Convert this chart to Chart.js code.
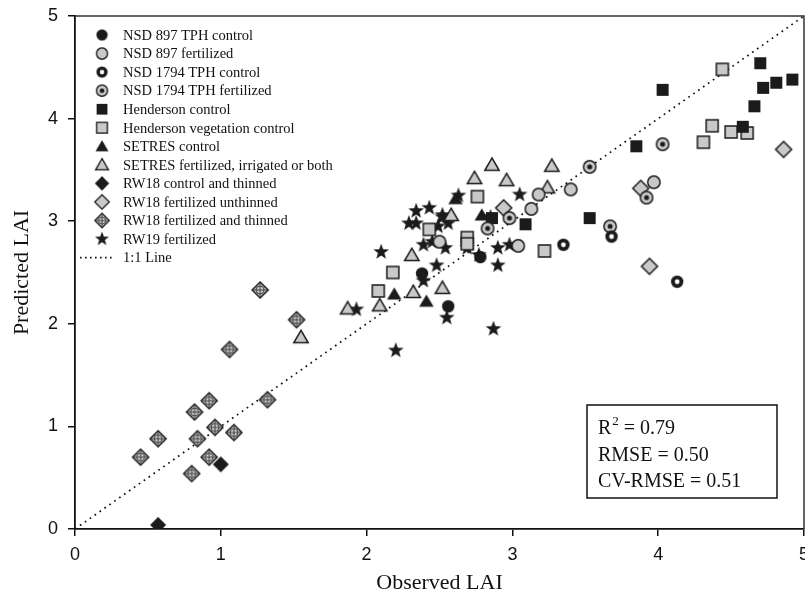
<!DOCTYPE html>
<html>
<head>
<meta charset="utf-8">
<script src="https://cdn.jsdelivr.net/npm/chart.js@4.4.1/dist/chart.umd.min.js"></script>
<style>
  html, body { margin: 0; padding: 0; background: #fff; overflow: hidden; }
  #wrap { width: 805px; height: 598px; overflow: hidden; }
</style>
</head>
<body>
<div id="wrap"><canvas id="lai" width="817" height="598"></canvas></div>
<script>
// [observed, predicted] pairs
const nsd897Control = [[2.38, 2.49], [2.56, 2.17], [2.78, 2.65]];
const nsd897Fert = [[3.97, 3.38], [3.40, 3.31], [3.18, 3.26], [3.13, 3.12], [3.04, 2.76], [2.50, 2.80]];
const nsd1794Control = [[3.35, 2.77], [3.68, 2.85], [4.13, 2.41]];
const nsd1794Fert = [[4.03, 3.75], [3.53, 3.53], [3.92, 3.23], [3.67, 2.95], [2.98, 3.03], [2.83, 2.93]];
const hendControl = [[4.03, 4.28], [4.70, 4.54], [4.72, 4.30], [4.81, 4.35], [4.92, 4.38], [4.66, 4.12],
  [4.58, 3.92], [3.85, 3.73], [3.53, 3.03], [3.09, 2.97], [2.86, 3.03]];
const hendVeg = [[4.44, 4.48], [4.37, 3.93], [4.31, 3.77], [4.50, 3.87], [4.61, 3.86], [3.22, 2.71],
  [2.76, 3.24], [2.43, 2.92], [2.18, 2.50], [2.08, 2.32], [2.69, 2.84], [2.69, 2.78]];
const setresControl = [[2.61, 3.22], [2.79, 3.06], [2.19, 2.29], [2.41, 2.22]];
const setresFert = [[2.86, 3.55], [3.27, 3.54], [2.74, 3.42], [2.96, 3.40], [3.24, 3.33], [2.58, 3.06],
  [2.31, 2.67], [2.32, 2.31], [2.52, 2.35], [2.09, 2.18], [1.87, 2.15], [1.55, 1.87]];
const rw18Control = [[1.00, 0.63], [0.57, 0.04]];
const rw18Unthinned = [[4.86, 3.70], [3.88, 3.32], [3.94, 2.56], [2.94, 3.13]];
const rw18Thinned = [[1.27, 2.33], [1.52, 2.04], [1.06, 1.75], [1.32, 1.26], [0.92, 1.25], [0.82, 1.14],
  [0.96, 0.99], [1.09, 0.94], [0.84, 0.88], [0.57, 0.88], [0.45, 0.70], [0.92, 0.70], [0.80, 0.54]];
const rw19Fert = [[2.63, 3.25], [3.05, 3.26], [2.34, 3.10], [2.43, 3.13], [2.29, 2.98], [2.34, 2.98],
  [2.52, 3.04], [2.49, 2.95], [2.56, 2.98], [2.85, 3.04], [2.39, 2.77], [2.45, 2.80], [2.54, 2.74],
  [2.69, 2.74], [2.77, 2.67], [2.90, 2.74], [2.98, 2.77], [2.10, 2.70], [2.48, 2.57], [2.90, 2.57],
  [2.39, 2.42], [1.93, 2.14], [2.55, 2.06], [2.87, 1.95], [2.20, 1.74], [2.52, 3.06]];
const oneToOne = [[0, 0], [5, 5]];

const axisTicks = [0, 1, 2, 3, 4, 5];
const stats = [['R', '2', ' = 0.79'], ['RMSE = 0.50'], ['CV-RMSE = 0.51']];

const BLACK = '#1b1b1b';
const GRAY = '#c9c9c9';

// little canvases used as point styles
function marker(kind) {
  const c = document.createElement('canvas');
  c.width = c.height = 22;
  const g = c.getContext('2d');
  g.translate(11, 11);
  g.lineWidth = 1.5;
  g.strokeStyle = BLACK;
  g.beginPath();
  if (kind.shape === 'circle') g.arc(0, 0, 6.2, 0, Math.PI * 2);
  if (kind.shape === 'square') g.rect(-6, -6, 12, 12);
  if (kind.shape === 'triangle') { g.moveTo(0, -6.8); g.lineTo(7.2, 5.6); g.lineTo(-7.2, 5.6); g.closePath(); }
  if (kind.shape === 'diamond') { g.moveTo(0, -8); g.lineTo(8, 0); g.lineTo(0, 8); g.lineTo(-8, 0); g.closePath(); }
  if (kind.shape === 'star') {
    for (let i = 0; i < 10; i++) {
      const r = i % 2 ? 3.4 : 8.2;
      const a = -Math.PI / 2 + i * Math.PI / 5;
      g.lineTo(r * Math.cos(a), r * Math.sin(a));
    }
    g.closePath();
  }
  g.fillStyle = kind.fill;
  g.fill();
  if (kind.fill !== BLACK) g.stroke();
  if (kind.hole) {
    g.beginPath(); g.arc(0, 0, 2.4, 0, Math.PI * 2); g.fillStyle = '#fff'; g.fill();
  }
  if (kind.dot) {
    g.beginPath(); g.arc(0, 0, 2.5, 0, Math.PI * 2); g.fillStyle = BLACK; g.fill();
  }
  if (kind.cross) {
    g.lineWidth = 0.9;
    g.strokeStyle = '#333';
    g.beginPath(); g.arc(0, 0, 4, 0, Math.PI * 2); g.stroke();
    g.beginPath(); g.moveTo(0, -7); g.lineTo(0, 7); g.moveTo(-7, 0); g.lineTo(7, 0); g.stroke();
  }
  return c;
}

const series = [
  { label: 'NSD 897 TPH control', data: nsd897Control, m: { shape: 'circle', fill: BLACK } },
  { label: 'NSD 897 fertilized', data: nsd897Fert, m: { shape: 'circle', fill: GRAY } },
  { label: 'NSD 1794 TPH control', data: nsd1794Control, m: { shape: 'circle', fill: BLACK, hole: true } },
  { label: 'NSD 1794 TPH fertilized', data: nsd1794Fert, m: { shape: 'circle', fill: GRAY, dot: true } },
  { label: 'Henderson control', data: hendControl, m: { shape: 'square', fill: BLACK } },
  { label: 'Henderson vegetation control', data: hendVeg, m: { shape: 'square', fill: GRAY } },
  { label: 'SETRES control', data: setresControl, m: { shape: 'triangle', fill: BLACK } },
  { label: 'SETRES fertilized, irrigated or both', data: setresFert, m: { shape: 'triangle', fill: GRAY } },
  { label: 'RW18 control and thinned', data: rw18Control, m: { shape: 'diamond', fill: BLACK } },
  { label: 'RW18 fertilized unthinned', data: rw18Unthinned, m: { shape: 'diamond', fill: GRAY } },
  { label: 'RW18 fertilized and thinned', data: rw18Thinned, m: { shape: 'diamond', fill: GRAY, cross: true } },
  { label: 'RW19 fertilized', data: rw19Fert, m: { shape: 'star', fill: BLACK } }
];

const datasets = series.map(s => ({
  label: s.label,
  data: s.data.map(p => ({ x: p[0], y: p[1] })),
  pointStyle: marker(s.m),
  pointRadius: 8,
  pointHoverRadius: 8
}));
datasets.push({
  label: '1:1 Line',
  data: oneToOne.map(p => ({ x: p[0], y: p[1] })),
  showLine: true,
  borderColor: '#111',
  borderWidth: 1.7,
  borderDash: [1.7, 4.3],
  pointRadius: 0,
  order: 20
});

// frame, legend and stats box
const extras = {
  id: 'extras',
  afterDraw(chart) {
    const { ctx, chartArea: a } = chart;
    ctx.save();
    ctx.strokeStyle = '#333';
    ctx.lineWidth = 1.5;
    ctx.beginPath();
    ctx.moveTo(a.left, a.top); ctx.lineTo(a.right, a.top); ctx.lineTo(a.right, a.bottom);
    ctx.stroke();

    // legend
    ctx.font = '14.5px "Liberation Serif", "Times New Roman", serif';
    ctx.fillStyle = '#111';
    ctx.textBaseline = 'middle';
    chart.data.datasets.forEach((ds, i) => {
      const y = 35 + i * 18.55;
      if (ds.showLine) {
        ctx.save();
        ctx.strokeStyle = '#111'; ctx.lineWidth = 1.6; ctx.setLineDash([1.6, 3.4]);
        ctx.beginPath(); ctx.moveTo(80, y); ctx.lineTo(114, y); ctx.stroke();
        ctx.restore();
      } else {
        const img = ds.pointStyle;
        ctx.save();
        ctx.translate(102, y);
        ctx.scale(0.9, 0.9);
        ctx.drawImage(img, -img.width / 2, -img.height / 2);
        ctx.restore();
      }
      ctx.fillText(ds.label, 123, y + 1);
    });

    // statistics box
    ctx.lineWidth = 1.5;
    ctx.strokeStyle = '#111';
    ctx.strokeRect(587, 405, 190, 93);
    ctx.textBaseline = 'alphabetic';
    const big = '20px "Liberation Serif", "Times New Roman", serif';
    const small = '13px "Liberation Serif", "Times New Roman", serif';
    stats.forEach((parts, i) => {
      const y = 434 + i * 26.5;
      let x = 598;
      ctx.font = big;
      ctx.fillText(parts[0], x, y);
      x += ctx.measureText(parts[0]).width;
      if (parts.length > 1) {
        ctx.font = small;
        ctx.fillText(parts[1], x + 1, y - 9);
        x += ctx.measureText(parts[1]).width + 1;
        ctx.font = big;
        ctx.fillText(parts[2], x, y);
      }
    });
    ctx.restore();
  }
};

const tickFont = { family: '"Liberation Sans", Arial, sans-serif', size: 18 };
const titleFont = { family: '"Liberation Serif", "Times New Roman", serif', size: 22 };

new Chart(document.getElementById('lai'), {
  type: 'scatter',
  data: { datasets },
  options: {
    responsive: false,
    animation: false,
    devicePixelRatio: 1,
    layout: { padding: { top: 16, right: 1, left: 0, bottom: 0 } },
    plugins: { legend: { display: false }, tooltip: { enabled: false } },
    scales: {
      x: {
        type: 'linear', min: 0, max: 5,
        afterBuildTicks: s => { s.ticks = axisTicks.map(v => ({ value: v })); },
        afterFit: s => { s.height = 69; },
        ticks: { font: tickFont, color: '#111', padding: 8, maxRotation: 0 },
        grid: { drawOnChartArea: false, tickLength: 7, color: '#111', lineWidth: 1.5 },
        border: { color: '#111', width: 1.8 },
        title: { display: true, text: 'Observed LAI', font: titleFont, color: '#111', padding: { top: 0, bottom: 2 } }
      },
      y: {
        type: 'linear', min: 0, max: 5,
        afterBuildTicks: s => { s.ticks = axisTicks.map(v => ({ value: v })); },
        afterFit: s => { s.width = 75; s.paddingTop = 0; s.paddingBottom = 0; },
        ticks: { font: tickFont, color: '#111', padding: 10 },
        grid: { drawOnChartArea: false, tickLength: 7, color: '#111', lineWidth: 1.5 },
        border: { color: '#111', width: 1.8 },
        title: { display: true, text: 'Predicted LAI', font: titleFont, color: '#111', padding: { top: 9, bottom: 0 } }
      }
    }
  },
  plugins: [extras]
});
</script>
</body>
</html>
